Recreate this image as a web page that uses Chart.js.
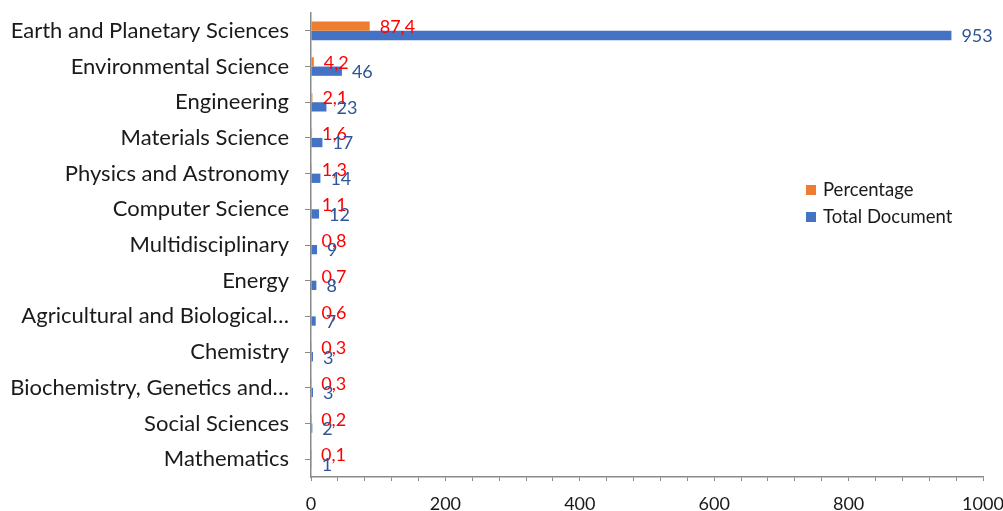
<!DOCTYPE html>
<html>
<head>
<meta charset="utf-8">
<script src="https://cdn.jsdelivr.net/npm/chart.js@4/dist/chart.umd.min.js"></script>
<style>
  html, body { margin: 0; padding: 0; background: #ffffff; }
  #wrap { width: 1003px; height: 511px; position: relative; }
</style>
</head>
<body>
<div id="wrap"><canvas id="c" width="1003" height="511"></canvas></div>
<script>
// Subject areas, top to bottom
const categories = [
  'Earth and Planetary Sciences',
  'Environmental Science',
  'Engineering',
  'Materials Science',
  'Physics and Astronomy',
  'Computer Science',
  'Multidisciplinary',
  'Energy',
  'Agricultural and Biological\u2026',
  'Chemistry',
  'Biochemistry, Genetics and\u2026',
  'Social Sciences',
  'Mathematics'
];

// Share of documents per subject (%)
const percentage = [87.4, 4.2, 2.1, 1.6, 1.3, 1.1, 0.8, 0.7, 0.6, 0.3, 0.3, 0.2, 0.1];

// Number of documents per subject
const totalDocument = [953, 46, 23, 17, 14, 12, 9, 8, 7, 3, 3, 2, 1];

// Labelled values on the horizontal axis
const xTickLabels = [0, 200, 400, 600, 800, 1000];

const FONT = 'Lato, "Open Sans", sans-serif';
const AXIS_GRAY = '#8a8a8a';

// Value labels next to each bar end
const valueLabels = {
  id: 'valueLabels',
  afterDatasetsDraw(chart) {
    const ctx = chart.ctx;
    ctx.save();
    ctx.textBaseline = 'middle';
    ctx.textAlign = 'left';
    chart.data.datasets.forEach((ds, i) => {
      const meta = chart.getDatasetMeta(i);
      ctx.fillStyle = ds.labelColor;
      ctx.font = '18px ' + FONT;
      meta.data.forEach((bar, j) => {
        const v = ds.data[j];
        const txt = ds.decimals ? v.toFixed(ds.decimals).replace('.', ',') : String(v);
        ctx.fillText(txt, bar.x + 10, bar.y + 1);
      });
    });
    ctx.restore();
  }
};

// Legend drawn inside the plot area on the right
const innerLegend = {
  id: 'innerLegend',
  afterDraw(chart) {
    const ctx = chart.ctx;
    ctx.save();
    ctx.font = '18.5px ' + FONT;
    ctx.textBaseline = 'middle';
    ctx.textAlign = 'left';
    chart.data.datasets.forEach((ds, i) => {
      const y = 190 + i * 27;
      ctx.fillStyle = ds.backgroundColor;
      ctx.fillRect(806, y - 5, 10, 10);
      ctx.fillStyle = '#1a1a1a';
      ctx.fillText(ds.label, 823, y);
    });
    ctx.restore();
  }
};

new Chart(document.getElementById('c'), {
  type: 'bar',
  data: {
    labels: categories,
    datasets: [
      {
        label: 'Percentage',
        data: percentage,
        backgroundColor: '#ED7D31',
        labelColor: '#ff0000',
        decimals: 1,
        categoryPercentage: 0.52,
        barPercentage: 1.0
      },
      {
        label: 'Total Document',
        data: totalDocument,
        backgroundColor: '#4472C4',
        labelColor: '#2f5597',
        decimals: 0,
        categoryPercentage: 0.52,
        barPercentage: 1.0
      }
    ]
  },
  options: {
    indexAxis: 'y',
    responsive: false,
    animation: false,
    devicePixelRatio: 1,
    layout: { padding: { left: 0, right: 20, top: 13, bottom: 0 } },
    plugins: {
      legend: { display: false },
      tooltip: { enabled: false }
    },
    scales: {
      x: {
        min: 0,
        max: 1000,
        afterFit(scale) {
          scale.height = 34;
          scale.paddingLeft = 0;
          scale.paddingRight = 0;
        },
        grid: {
          drawOnChartArea: false,
          drawTicks: true,
          tickLength: 4,
          color: AXIS_GRAY
        },
        border: { display: true, color: AXIS_GRAY, width: 1.5 },
        ticks: {
          stepSize: 40,
          autoSkip: false,
          maxRotation: 0,
          padding: 12,
          color: '#1a1a1a',
          font: { family: FONT, size: 18 },
          callback: (v) => xTickLabels.includes(v) ? String(v) : ''
        }
      },
      y: {
        afterFit(scale) {
          scale.width = 311;
          scale.paddingTop = 0;
          scale.paddingBottom = 0;
        },
        grid: {
          drawOnChartArea: false,
          drawTicks: true,
          tickLength: 6,
          offset: false,
          color: AXIS_GRAY
        },
        border: { display: true, color: AXIS_GRAY, width: 1.5 },
        ticks: {
          autoSkip: false,
          padding: 16,
          color: '#1a1a1a',
          font: { family: FONT, size: 22 }
        }
      }
    }
  },
  plugins: [valueLabels, innerLegend]
});
</script>
</body>
</html>
